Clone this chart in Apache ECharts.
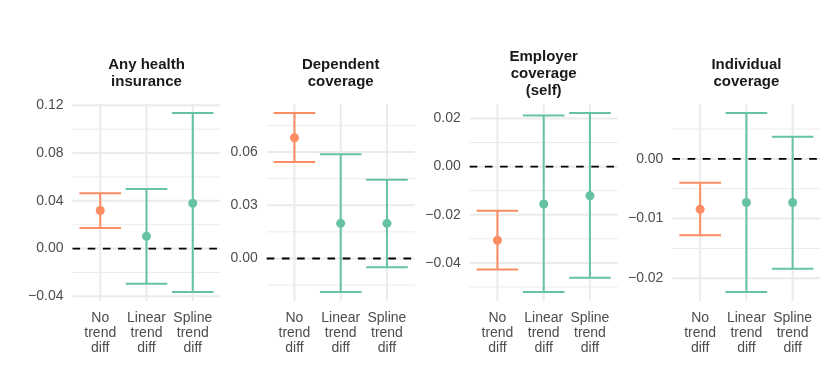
<!DOCTYPE html>
<html><head><meta charset="utf-8">
<script src="https://cdn.jsdelivr.net/npm/echarts@6/dist/echarts.min.js"></script>
<style>html,body{margin:0;padding:0;background:#fff}#c{width:830px;height:383px}</style>
</head><body><div id="c"></div>
<script>
// ---- data ----
const categories = ['No\ntrend\ndiff', 'Linear\ntrend\ndiff', 'Spline\ntrend\ndiff'];
const panelTitles = ['Any health\ninsurance', 'Dependent\ncoverage', 'Employer\ncoverage\n(self)', 'Individual\ncoverage'];

const estAny = [0.0319, 0.0103, 0.0380];
const lowAny = [0.0172, -0.0294, -0.0364];
const upAny  = [0.0464, 0.0500, 0.1136];

const estDep = [0.0680, 0.0198, 0.0198];
const lowDep = [0.0544, -0.0189, -0.0050];
const upDep  = [0.0820, 0.0587, 0.0443];

const estEmp = [-0.0306, -0.0155, -0.0121];
const lowEmp = [-0.0427, -0.0521, -0.0462];
const upEmp  = [-0.0183, 0.0212, 0.0223];

const estInd = [-0.00845, -0.0073, -0.0073];
const lowInd = [-0.0128, -0.0223, -0.0184];
const upInd  = [-0.0040, 0.0077, 0.0037];

const ticksAny = [-0.04, 0, 0.04, 0.08, 0.12];
const minorAny = [-0.02, 0.02, 0.06, 0.10];
const ticksDep = [0, 0.03, 0.06];
const minorDep = [-0.015, 0.015, 0.045, 0.075];
const ticksEmp = [-0.04, -0.02, 0, 0.02];
const minorEmp = [-0.05, -0.03, -0.01, 0.01];
const ticksInd = [-0.02, -0.01, 0];
const minorInd = [-0.015, -0.005, 0.005];

// ---- layout / style ----
const FONT = '"Liberation Sans", Arial, Helvetica, sans-serif';
const catColors = ['#FC8D62', '#66C2A5', '#66C2A5'];
const gridLefts = [72.5, 266.7, 469.7, 672.4];
const gridW = 148, gridTop = 104, gridH = 197;
const GRID_COL = '#EBEBEB';

const panels = [
  {title: panelTitles[0], est: estAny, low: lowAny, up: upAny, ticks: ticksAny, minor: minorAny},
  {title: panelTitles[1], est: estDep, low: lowDep, up: upDep, ticks: ticksDep, minor: minorDep},
  {title: panelTitles[2], est: estEmp, low: lowEmp, up: upEmp, ticks: ticksEmp, minor: minorEmp},
  {title: panelTitles[3], est: estInd, low: lowInd, up: upInd, ticks: ticksInd, minor: minorInd}
];

function fmt(v) {
  const s = Math.abs(v).toFixed(2);
  return (v < -1e-12 ? '\u2212' : '') + s;
}

function hLineSeries(k, values, style, z) {
  return {
    type: 'custom', xAxisIndex: k, yAxisIndex: k, z: z, silent: true,
    data: values.map(v => [0, v]),
    renderItem: function (params, api) {
      const cs = params.coordSys;
      const y = api.coord([0, api.value(1)])[1];
      return {type: 'line', shape: {x1: cs.x, y1: y, x2: cs.x + cs.width, y2: y}, style: Object.assign({fill: null}, style)};
    }
  };
}
function vLineSeries(k, style, z) {
  return {
    type: 'custom', xAxisIndex: k, yAxisIndex: k, z: z, silent: true,
    data: categories.map((c, i) => [i, 0]),
    renderItem: function (params, api) {
      const cs = params.coordSys;
      const x = api.coord([api.value(0), 0])[0];
      return {type: 'line', shape: {x1: x, y1: cs.y, x2: x, y2: cs.y + cs.height}, style: Object.assign({fill: null}, style)};
    }
  };
}

const grid = [], xAxis = [], yAxis = [], series = [], title = [];
panels.forEach((p, k) => {
  grid.push({left: gridLefts[k], top: gridTop, width: gridW, height: gridH});
  const lo = Math.min.apply(null, p.low), hi = Math.max.apply(null, p.up);
  const pad = (hi - lo) * 0.05;
  xAxis.push({
    type: 'value', gridIndex: k, min: -0.6, max: 2.6,
    axisLine: {show: false}, axisTick: {show: false}, splitLine: {show: false},
    axisLabel: {customValues: [0, 1, 2], formatter: v => categories[Math.round(v)],
      color: '#4D4D4D', fontSize: 14, lineHeight: 15.2, margin: 9.5, fontFamily: FONT}
  });
  yAxis.push({
    type: 'value', gridIndex: k, min: lo - pad, max: hi + pad,
    axisLine: {show: false}, axisTick: {show: false}, splitLine: {show: false},
    axisLabel: {customValues: p.ticks, formatter: fmt, color: '#4D4D4D', fontSize: 14, margin: 9, fontFamily: FONT}
  });
  series.push(hLineSeries(k, p.minor, {stroke: GRID_COL, lineWidth: 1}, 1));
  series.push(hLineSeries(k, p.ticks, {stroke: GRID_COL, lineWidth: 2}, 1));
  series.push(vLineSeries(k, {stroke: GRID_COL, lineWidth: 2}, 1));
  series.push(hLineSeries(k, [0], {stroke: '#000000', lineWidth: 1.9, lineDash: [7.6, 7.6]}, 2));
  series.push({
    type: 'custom', xAxisIndex: k, yAxisIndex: k, z: 3, silent: true,
    data: p.est.map((e, i) => [i, p.low[i], p.up[i]]),
    encode: {x: 0, y: [1, 2]},
    renderItem: function (params, api) {
      const i = api.value(0);
      const a = api.coord([i, api.value(1)]);
      const b = api.coord([i, api.value(2)]);
      const xl = api.coord([i - 0.45, 0])[0], xr = api.coord([i + 0.45, 0])[0];
      const st = {stroke: catColors[Math.round(i)], lineWidth: 2, fill: null};
      return {type: 'group', children: [
        {type: 'line', shape: {x1: a[0], y1: a[1], x2: b[0], y2: b[1]}, style: st},
        {type: 'line', shape: {x1: xl, y1: a[1], x2: xr, y2: a[1]}, style: st},
        {type: 'line', shape: {x1: xl, y1: b[1], x2: xr, y2: b[1]}, style: st}
      ]};
    }
  });
  series.push({
    type: 'scatter', xAxisIndex: k, yAxisIndex: k, z: 4, silent: true,
    symbol: 'circle', symbolSize: 9,
    data: p.est.map((e, i) => [i, e]),
    itemStyle: {color: params => catColors[params.dataIndex], opacity: 1}
  });
  const nLines = p.title.split('\n').length;
  title.push({
    text: p.title, left: gridLefts[k] + gridW / 2, top: 73.8 - nLines * 17 / 2,
    textAlign: 'center', padding: 0,
    textStyle: {fontSize: 15, fontWeight: 'bold', lineHeight: 17, color: '#1A1A1A', fontFamily: FONT}
  });
});

const chart = echarts.init(document.getElementById('c'), null, {renderer: 'canvas'});
chart.setOption({
  backgroundColor: '#ffffff',
  animation: false,
  title: title, grid: grid, xAxis: xAxis, yAxis: yAxis, series: series
});
</script>
</body></html>
